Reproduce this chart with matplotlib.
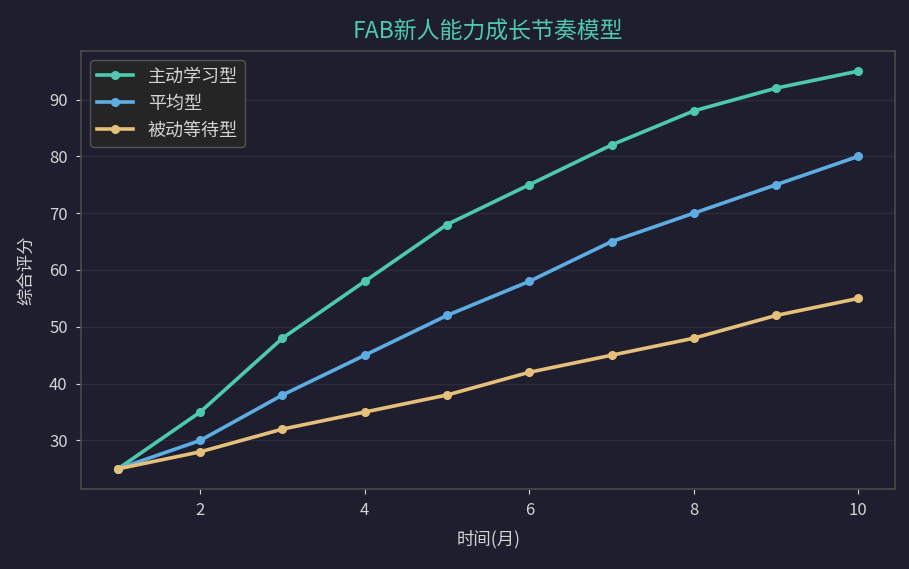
import matplotlib.pyplot as plt

plt.rcParams['font.family'] = ['Noto Sans CJK SC', 'DejaVu Sans']

# 数据
months = [1, 2, 3, 4, 5, 6, 7, 8, 9, 10]
active = [25, 35, 48, 58, 68, 75, 82, 88, 92, 95]
average = [25, 30, 38, 45, 52, 58, 65, 70, 75, 80]
passive = [25, 28, 32, 35, 38, 42, 45, 48, 52, 55]
labels = ['主动学习型', '平均型', '被动等待型']
colors = ['#4ec9b0', '#5dade2', '#e5c07b']

bg = '#1e1e2e'
text_c = '#d4d4d4'

fig, ax = plt.subplots(figsize=(9.09, 5.69), dpi=100)
fig.patch.set_facecolor(bg)
ax.set_facecolor(bg)

for y, lab, c in zip([active, average, passive], labels, colors):
    ax.plot(months, y, marker='o', markersize=5.5, linewidth=2.6, color=c, label=lab)

ax.set_title('FAB新人能力成长节奏模型', color='#4ec9b0', fontsize=16.5, pad=9)
ax.set_xlabel('时间(月)', color=text_c, fontsize=12.5, labelpad=8)
ax.set_ylabel('综合评分', color=text_c, fontsize=12.5, labelpad=10)

ax.grid(axis='y', color='#2c2c3c', linewidth=1)
ax.set_axisbelow(True)
for s in ax.spines.values():
    s.set_color('#4a4a4a')
    s.set_linewidth(1.2)
ax.tick_params(colors=text_c, labelsize=12, pad=6)

leg = ax.legend(loc='upper left', fontsize=13, facecolor='#252526', edgecolor='#555555',
                framealpha=1)
for t in leg.get_texts():
    t.set_color(text_c)

fig.subplots_adjust(left=0.089, right=0.985, top=0.91, bottom=0.141)
plt.savefig('out.png', facecolor=bg)
